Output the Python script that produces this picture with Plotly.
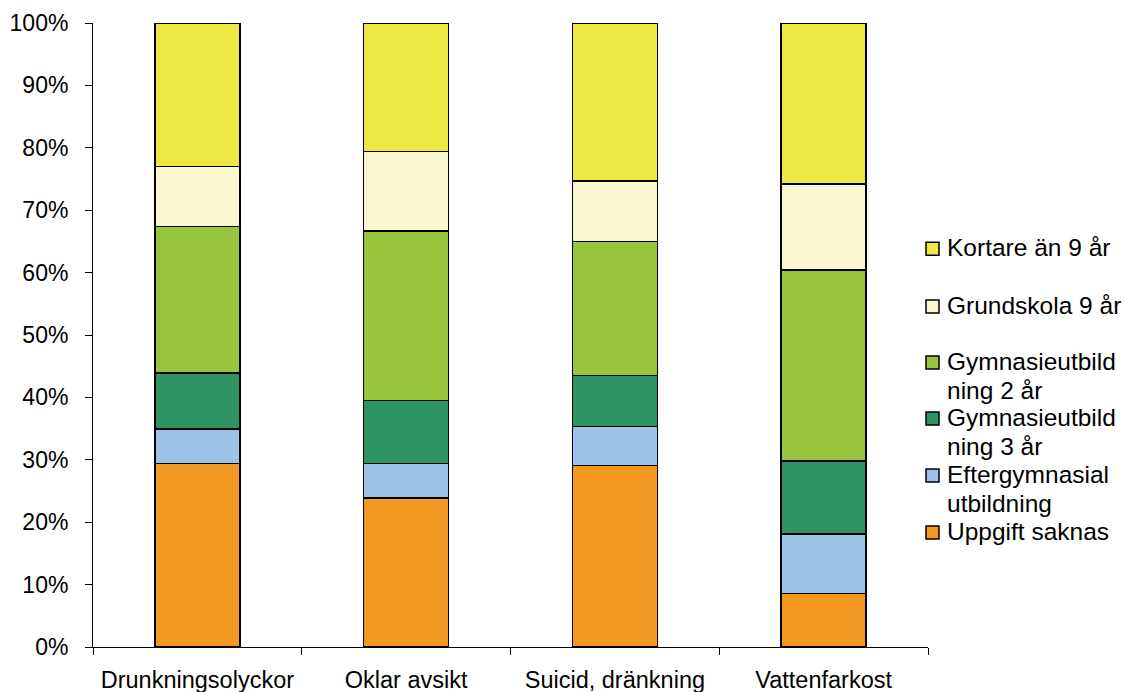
import plotly.graph_objects as go

# Kategorier och andelar (%) per utbildningsnivå
categories = ["Drunkningsolyckor", "Oklar avsikt", "Suicid, dränkning", "Vattenfarkost"]

uppgift_saknas = [29.4, 23.9, 29.1, 8.6]
eftergymnasial = [5.5, 5.5, 6.2, 9.5]
gymn_3 = [9.0, 10.1, 8.2, 11.7]
gymn_2 = [23.5, 27.2, 21.5, 30.6]
grundskola_9 = [9.6, 12.7, 9.7, 13.8]
kortare_9 = [23.0, 20.6, 25.3, 25.8]

series = [
    ("Uppgift saknas", uppgift_saknas, "#F39820"),
    ("Eftergymnasial|utbildning", eftergymnasial, "#9DC3E6"),
    ("Gymnasieutbild|ning 3 år", gymn_3, "#2E9464"),
    ("Gymnasieutbild|ning 2 år", gymn_2, "#98C43E"),
    ("Grundskola 9 år", grundskola_9, "#FAF7D0"),
    ("Kortare än 9 år", kortare_9, "#EEE942"),
]

y_ticks = list(range(0, 101, 10))
y_tick_labels = [f"{v}%" for v in y_ticks]

FONT = "Liberation Sans, Arial, sans-serif"

fig = go.Figure()
for name, vals, color in series:
    fig.add_trace(go.Bar(
        x=categories, y=vals, name=name.replace("|", ""),
        marker=dict(color=color, line=dict(color="black", width=1.5)),
        showlegend=False,
    ))

W, H = 1126, 692
left, right, top, bottom = 92.5, 198, 23.3, 44.5
pw = W - left - right
ph = H - top - bottom


def px_x(p):
    return (p - left) / pw


def px_y(p):
    return (H - bottom - p) / ph


# Legend drawn as squares + text lines, top item first
legend_items = list(reversed(series))
legend_centers = [249, 307, 363, 419, 476, 533]
LINE_STEP = 29
shapes = []
annotations = []
for (name, _, color), cy in zip(legend_items, legend_centers):
    shapes.append(dict(
        type="rect", xref="paper", yref="paper",
        x0=px_x(926), x1=px_x(939), y0=px_y(cy + 6.5), y1=px_y(cy - 6.5),
        fillcolor=color, line=dict(color="black", width=1.5),
    ))
    for i, line in enumerate(name.split("|")):
        annotations.append(dict(
            xref="paper", yref="paper", x=px_x(945), y=px_y(cy - 1 + i * LINE_STEP),
            xanchor="left", yanchor="middle", align="left",
            text=line, showarrow=False,
            font=dict(family=FONT, size=24.5, color="black"),
        ))

fig.update_layout(
    barmode="stack",
    bargap=0.593,
    width=W, height=H,
    margin=dict(l=left, r=right, t=top, b=bottom, pad=0),
    paper_bgcolor="white", plot_bgcolor="white",
    font=dict(family=FONT, size=22, color="black"),
    shapes=shapes,
    annotations=annotations,
    xaxis=dict(
        showline=True, linecolor="black", linewidth=1,
        ticks="outside", ticklen=7, tickcolor="black", tickwidth=1,
        tickson="boundaries", showgrid=False, ticklabelstandoff=12,
        tickfont=dict(size=23.5), automargin=False,
    ),
    yaxis=dict(
        range=[0, 100], tickvals=y_ticks, ticktext=y_tick_labels,
        showline=True, linecolor="black", linewidth=1,
        ticks="outside", ticklen=7, tickcolor="black", tickwidth=1,
        showgrid=False, zeroline=False, ticklabelstandoff=12,
        tickfont=dict(size=23), automargin=False,
    ),
)

fig.write_html("out.html")
